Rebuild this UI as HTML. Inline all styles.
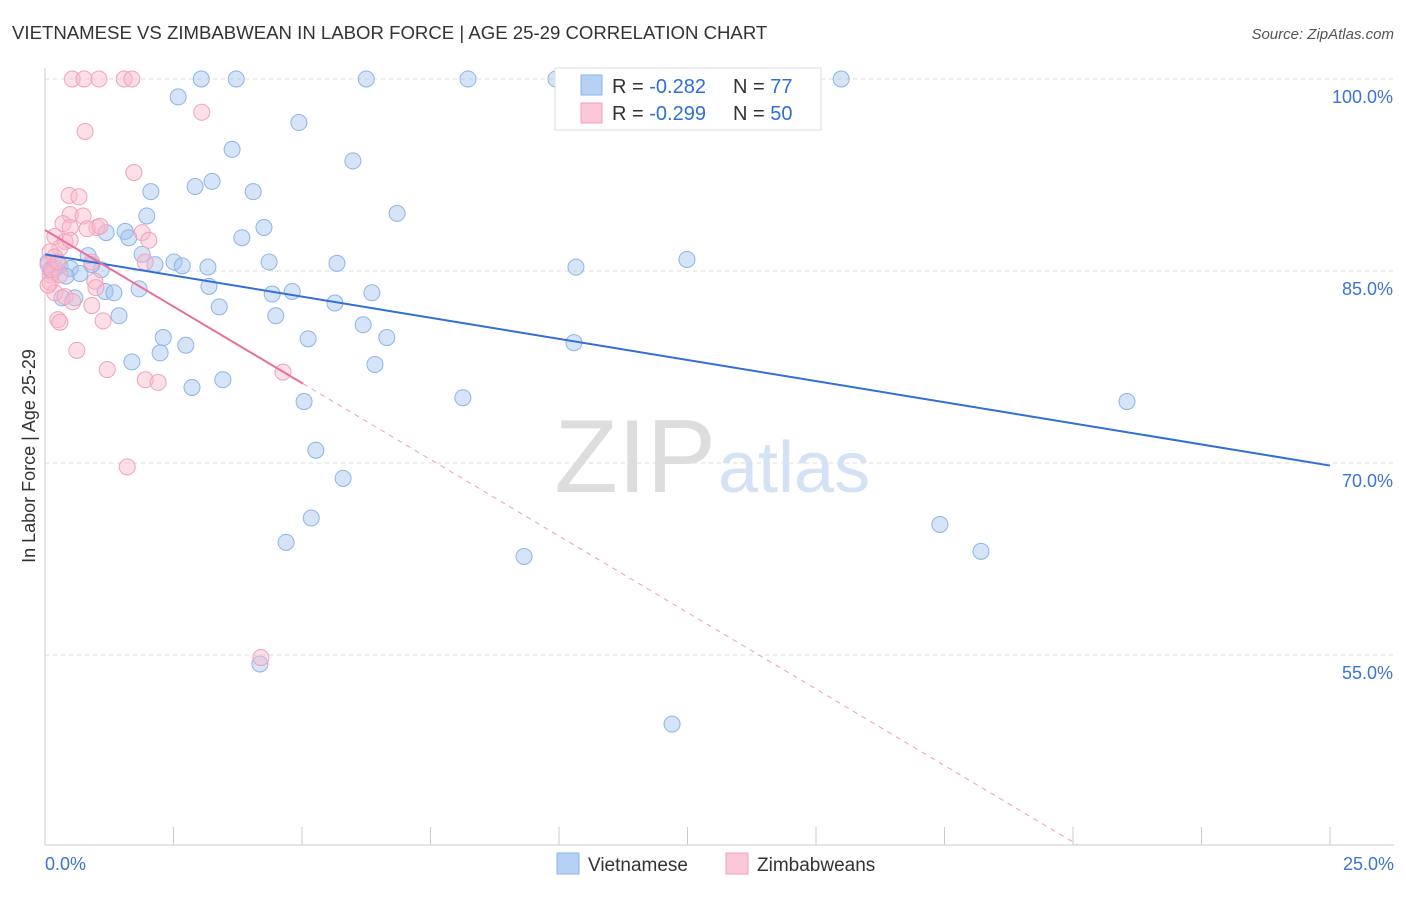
<!DOCTYPE html>
<html><head><meta charset="utf-8"><style>
body{margin:0;background:#fff;font-family:"Liberation Sans",sans-serif;}
svg text{font-family:"Liberation Sans",sans-serif;}
</style></head><body>
<svg id="chart" width="1406" height="892">
<text x="12" y="39" font-size="18.6" fill="#333">VIETNAMESE VS ZIMBABWEAN IN LABOR FORCE | AGE 25-29 CORRELATION CHART</text>
<text x="1394" y="39" font-size="15" fill="#555" font-style="italic" text-anchor="end">Source: ZipAtlas.com</text>
<text x="35" y="456" font-size="18" fill="#333" transform="rotate(-90 35 456)" text-anchor="middle">In Labor Force | Age 25-29</text>
<g id="grid"></g>
<text x="716" y="492" font-size="104" fill="#ddd" text-anchor="end" font-family="Liberation Serif">ZIP</text>
<text x="718" y="492" font-size="72" fill="#d4e2f5">atlas</text>
<g id="marks"></g>
<g>
<rect x="555" y="68" width="266" height="62" fill="#fff" stroke="#ddd"/>
<rect x="581" y="75" width="21" height="20" fill="#b7d1f5" stroke="#8fb3e6"/>
<rect x="581" y="103" width="21" height="20" fill="#fcc7d6" stroke="#f0a2bb"/>
<text x="612" y="93" font-size="20" fill="#333">R = <tspan fill="#2f6fd6">-0.282</tspan></text>
<text x="733" y="93" font-size="20" fill="#333">N = <tspan fill="#2f6fd6">77</tspan></text>
<text x="612" y="120" font-size="20" fill="#333">R = <tspan fill="#2f6fd6">-0.299</tspan></text>
<text x="733" y="120" font-size="20" fill="#333">N = <tspan fill="#2f6fd6">50</tspan></text>
</g>
<g>
<rect x="557" y="853" width="22" height="21" fill="#b7d1f5" stroke="#8fb3e6"/>
<text x="588" y="871" font-size="19" fill="#333">Vietnamese</text>
<rect x="726" y="853" width="22" height="21" fill="#fcc7d6" stroke="#f0a2bb"/>
<text x="757" y="871" font-size="19" fill="#333">Zimbabweans</text>
</g>
</svg>
<script>
const blueX=[2.59,3.04,3.72,6.25,8.23,9.94,15.49,4.94,3.64,5.99,2.06,2.92,3.25,4.05,6.85,1.98,1.56,1.19,1.63,3.83,4.26,1.89,2.14,2.51,2.67,3.17,4.36,5.68,0.84,1.09,0.29,0.10,0.19,0.49,0.68,0.91,10.33,12.49,1.83,1.17,1.34,3.19,4.42,4.81,6.36,5.64,3.39,1.44,4.49,6.19,2.30,2.74,5.12,6.65,10.29,2.24,1.69,6.42,2.86,3.46,5.04,8.13,21.05,5.27,5.80,5.18,4.69,9.32,17.41,18.21,4.18,12.20,0.33,0.58,0.06,0.14,0.41];
const blueY=[98.6,100,100,100,100,100,100,96.6,94.5,93.6,91.2,91.6,92.0,91.2,89.5,89.3,88.1,88.0,87.6,87.6,88.4,86.3,85.5,85.7,85.4,85.3,85.7,85.6,86.2,85.1,85.4,85.1,85.2,85.2,84.8,85.5,85.3,85.9,83.6,83.4,83.3,83.8,83.2,83.4,83.3,82.5,82.2,81.5,81.5,80.8,79.8,79.2,79.7,79.8,79.4,78.6,77.9,77.7,75.9,76.5,74.8,75.1,74.8,71.0,68.8,65.7,63.8,62.7,65.2,63.1,54.3,49.6,82.9,82.9,85.7,84.9,84.6];
const pinkX=[0.53,0.76,1.05,1.54,1.69,0.78,3.05,1.73,0.47,0.66,0.49,0.74,0.35,1.01,0.82,1.89,0.49,0.19,0.39,2.02,0.29,0.10,0.19,0.91,1.95,0.10,0.10,0.97,0.19,0.39,0.54,0.91,0.25,0.29,1.13,0.62,1.21,1.95,2.20,4.63,1.60,4.20,0.06,0.14,0.29,0.06,0.49,1.07,0.25,0.99];
const pinkY=[100,100,100,100,100,95.9,97.4,92.7,90.9,90.8,89.4,89.3,88.7,88.4,88.3,88.0,88.4,87.7,87.3,87.4,86.8,86.5,86.1,85.7,85.7,84.7,84.1,84.2,83.3,83.0,82.6,82.3,81.2,81.0,81.1,78.8,77.3,76.5,76.3,77.1,69.7,54.8,85.5,85.1,84.7,83.9,87.4,88.5,85.7,83.7];
const yTicks=[100,85,70,55];
const yTickLabels=["100.0%","85.0%","70.0%","55.0%"];
const xTicks=[0,2.5,5,7.5,10,12.5,15,17.5,20,22.5,25];
const blueTrend=[86.3,69.8];
const pinkTrend=[88.2,76.2,5.02];
const NS='http://www.w3.org/2000/svg';
const sx=v=>45+v*51.4, sy=v=>79+(100-v)*12.8;
function mk(t,a,p){const e=document.createElementNS(NS,t);for(const k in a)e.setAttribute(k,a[k]);p.appendChild(e);return e;}
const grid=document.getElementById('grid'),marks=document.getElementById('marks');
yTicks.forEach((v,i)=>{
 const l=mk('line',{x1:45,x2:1394,y1:sy(v),y2:sy(v),stroke:'#ddd','stroke-dasharray':'4,4'},grid);
 
 
 const t=mk('text',{x:1393,y:sy(v)+24,'font-size':18,fill:'#3a74d4','text-anchor':'end'},grid);t.textContent=yTickLabels[i];
 
 
});
mk('line',{x1:45,x2:45,y1:68,y2:845,stroke:'#ccc'},grid);
mk('line',{x1:45,x2:1394,y1:845,y2:845,stroke:'#ccc'},grid);
xTicks.forEach(v=>{const l=mk('line',{x1:sx(v),x2:sx(v),y1:827,y2:845,stroke:'#ccc'},grid);
 
 });
let t=mk('text',{x:45,y:870,'font-size':18,fill:'#3a74d4'},grid);t.textContent='0.0%';


t=mk('text',{x:1394,y:870,'font-size':18,fill:'#3a74d4','text-anchor':'end'},grid);t.textContent='25.0%';


blueX.forEach((x,i)=>{const c=mk('circle',{cx:sx(x),cy:sy(blueY[i]),r:8,fill:'rgba(164,196,240,0.45)',stroke:'#8fb3e6','stroke-width':1},marks);
 
 });
pinkX.forEach((x,i)=>{const c=mk('circle',{cx:sx(x),cy:sy(pinkY[i]),r:8,fill:'rgba(250,185,205,0.45)',stroke:'#f0a2bb','stroke-width':1},marks);
 
 });
let l=mk('line',{x1:sx(0),y1:sy(blueTrend[0]),x2:sx(25),y2:sy(blueTrend[1]),stroke:'#2f6fd6','stroke-width':2},marks);


const slope=(pinkTrend[1]-pinkTrend[0])/pinkTrend[2];
const xEnd=(40.2-pinkTrend[0])/slope;
l=mk('line',{x1:sx(pinkTrend[2]),y1:sy(pinkTrend[1]),x2:sx(xEnd),y2:sy(40.2),stroke:'#e8a0b8','stroke-width':1,'stroke-dasharray':'5,5'},marks);


l=mk('line',{x1:sx(0),y1:sy(pinkTrend[0]),x2:sx(pinkTrend[2]),y2:sy(pinkTrend[1]),stroke:'#e8709a','stroke-width':2},marks);


</script>
</body></html>
